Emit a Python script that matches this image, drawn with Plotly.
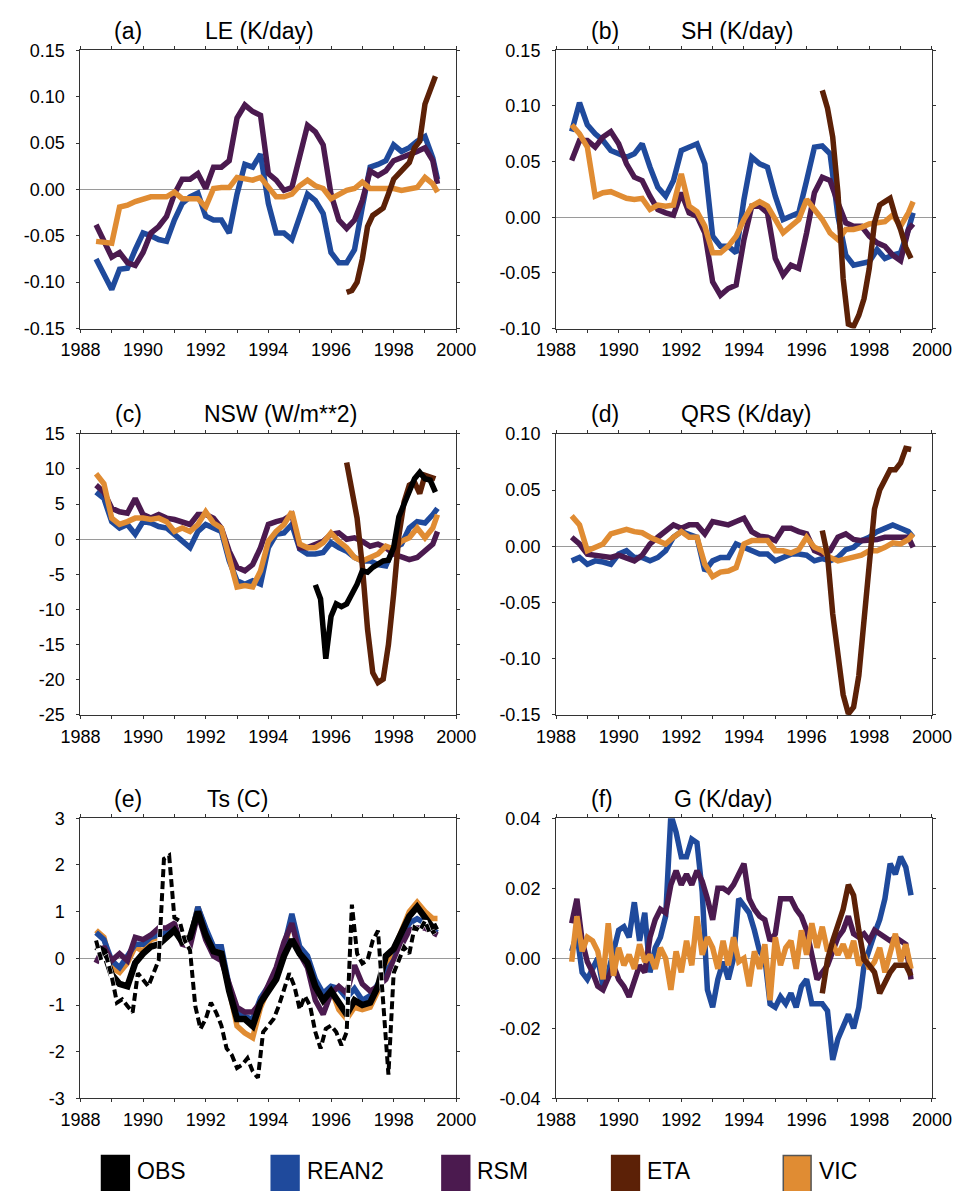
import numpy as np
import plotly.graph_objects as go

# ---------------------------------------------------------------- time axes
# quarterly sampling (last sample at 1999.4)
t_q = np.append(np.arange(1988.5, 1999.3, 0.25), 1999.4)
# two-monthly sampling used by the noisier records
t_6 = 1988.5 + np.arange(66) / 6.0
t_eta = 1996.5 + np.arange(18) / 6.0
t_obs_nsw = 1995.5 + np.arange(24) / 6.0

# ---------------------------------------------------------------- (a) LE (K/day)
le_rean2 = [-0.075, -0.092, -0.108, -0.086, -0.085, -0.065, -0.047, -0.050, -0.054, -0.056,
            -0.033, -0.015, -0.008, -0.004, -0.029, -0.033, -0.033, -0.047, -0.005, 0.027,
            0.024, 0.038, -0.015, -0.047, -0.047, -0.054, -0.029, -0.005, -0.012, -0.026,
            -0.068, -0.079, -0.079, -0.065, -0.019, 0.024, 0.027, 0.031, 0.048, 0.041,
            0.045, 0.052, 0.057, 0.034, 0.011]
le_rsm = [-0.038, -0.054, -0.073, -0.068, -0.079, -0.082, -0.068, -0.047, -0.040, -0.029,
          -0.005, 0.011, 0.011, 0.017, 0.001, 0.024, 0.024, 0.031, 0.077, 0.091,
          0.084, 0.080, 0.017, 0.010, -0.001, 0.002, 0.034, 0.069, 0.062, 0.048,
          -0.005, -0.033, -0.042, -0.033, -0.012, 0.020, 0.015, 0.020, 0.031, 0.034,
          0.038, 0.041, 0.045, 0.031, 0.006]
le_vic = [-0.056, -0.057, -0.058, -0.019, -0.017, -0.013, -0.010, -0.008, -0.008, -0.008,
          -0.003, -0.010, -0.010, -0.010, -0.019, 0.001, 0.002, 0.002, 0.013, 0.011,
          0.010, 0.013, 0.002, -0.008, -0.008, -0.005, 0.004, 0.010, 0.004, 0.001,
          -0.010, -0.005, -0.001, 0.001, 0.008, 0.001, 0.001, 0.001, 0.001, -0.001,
          0.001, 0.002, 0.013, 0.006, -0.003]
le_eta = [-0.111, -0.109, -0.100, -0.075, -0.040, -0.028, -0.024, -0.020, -0.005, 0.011,
          0.017, 0.024, 0.029, 0.045, 0.052, 0.092, 0.108, 0.122]

# ---------------------------------------------------------------- (b) SH (K/day)
sh_rean2 = [0.077, 0.103, 0.083, 0.075, 0.069, 0.060, 0.057, 0.054, 0.057, 0.066,
            0.045, 0.027, 0.019, 0.033, 0.060, 0.063, 0.066, 0.048, -0.017, -0.026,
            -0.026, -0.032, 0.016, 0.054, 0.048, 0.045, 0.019, -0.002, 0.001, 0.004,
            0.033, 0.063, 0.064, 0.057, 0.001, -0.034, -0.043, -0.042, -0.040, -0.029,
            -0.037, -0.034, -0.032, -0.011, 0.004]
sh_rsm = [0.051, 0.069, 0.069, 0.063, 0.072, 0.077, 0.066, 0.048, 0.036, 0.033,
          0.019, 0.007, 0.004, 0.002, 0.022, 0.004, 0.001, -0.014, -0.058, -0.070,
          -0.064, -0.061, -0.020, 0.010, 0.010, 0.004, -0.037, -0.052, -0.043, -0.046,
          -0.014, 0.022, 0.036, 0.033, 0.013, -0.005, -0.008, -0.008, -0.017, -0.023,
          -0.026, -0.034, -0.039, -0.011, -0.006]
sh_vic = [0.083, 0.075, 0.063, 0.019, 0.022, 0.023, 0.020, 0.017, 0.016, 0.017,
          0.007, 0.011, 0.010, 0.011, 0.039, 0.010, 0.005, -0.008, -0.032, -0.032,
          -0.026, -0.017, -0.002, 0.010, 0.014, 0.010, -0.002, -0.014, -0.008, -0.002,
          0.016, 0.007, -0.002, -0.014, -0.020, -0.011, -0.011, -0.009, -0.006, -0.005,
          -0.004, 0.002, -0.008, 0.004, 0.014]
sh_eta = [0.114, 0.098, 0.072, 0.022, -0.055, -0.096, -0.098, -0.088, -0.073, -0.046,
          -0.005, 0.011, 0.014, 0.017, 0.001, -0.011, -0.027, -0.037]

# ---------------------------------------------------------------- (c) NSW (W/m**2)
nsw_rean2 = [6.7, 5.8, 2.5, 1.6, 2.1, 0.7, 2.5, 2.3, 1.8, 1.6,
             0.7, -0.3, -1.2, 1.1, 2.1, 1.6, 1.1, -3.1, -5.9, -6.4,
             -5.9, -6.4, -1.2, 0.7, 0.9, 2.1, -1.4, -2.1, -2.1, -1.9,
             -0.5, -1.2, -1.7, -2.6, -3.1, -3.1, -3.6, -3.8, -1.2, -0.7,
             1.6, 2.5, 2.3, 3.5, 4.4]
nsw_rsm = [7.7, 6.7, 4.4, 3.9, 3.7, 5.8, 3.5, 3.0, 3.5, 3.0,
           2.8, 2.5, 2.1, 3.5, 3.5, 3.0, 1.6, -1.7, -4.0, -4.5,
           -3.6, -1.2, 2.1, 2.5, 2.8, 3.5, -1.2, -1.2, -0.7, -0.3,
           0.7, 0.9, 0.0, 0.2, -0.3, -1.0, -0.7, -1.2, -2.1, -2.6,
           -2.9, -2.6, -1.7, -0.7, 1.1]
nsw_vic = [9.3, 7.9, 3.0, 2.1, 2.5, 3.0, 3.0, 2.8, 3.0, 2.5,
           1.1, 1.6, 1.1, 2.1, 3.9, 2.3, 1.6, -2.6, -6.8, -6.6,
           -6.8, -4.5, -0.3, 1.1, 2.1, 3.9, -0.7, -1.2, -1.2, -0.5,
           0.9, -0.3, -1.2, -2.6, -3.1, -2.6, -2.1, -1.0, -1.4, -0.3,
           0.2, 1.6, 0.2, 1.6, 3.5]
nsw_eta = [10.9, 7.4, 3.0, -3.8, -12.8, -19.0, -20.4, -19.9, -15.0, -7.8,
           0.5, 5.3, 7.7, 8.1, 6.5, 9.1, 8.8, 8.6]
nsw_obs = [-6.5, -8.5, -17.0, -11.0, -9.2, -9.6, -9.2, -7.8, -6.4, -4.5,
           -4.7, -4.0, -3.6, -3.1, -3.0, -1.2, 3.2, 4.9, 6.7, 8.6,
           9.5, 8.6, 8.4, 6.7]

# ---------------------------------------------------------------- (d) QRS (K/day)
qrs_rean2 = [-0.013, -0.010, -0.016, -0.013, -0.014, -0.016, -0.007, -0.004, -0.010, -0.010,
             -0.013, -0.010, -0.004, 0.008, 0.013, 0.011, 0.008, -0.022, -0.013, -0.010,
             -0.010, 0.002, -0.001, -0.004, -0.007, -0.007, -0.013, -0.010, -0.007, -0.007,
             -0.008, -0.013, -0.011, -0.013, -0.010, -0.003, -0.001, 0.005, 0.008, 0.013,
             0.016, 0.019, 0.016, 0.013, 0.008]
qrs_rsm = [0.008, 0.002, -0.007, -0.008, -0.010, -0.010, -0.008, -0.011, -0.013, -0.008,
           0.002, 0.008, 0.013, 0.019, 0.016, 0.019, 0.019, 0.011, 0.022, 0.021,
           0.019, 0.022, 0.025, 0.013, 0.009, 0.008, 0.005, 0.016, 0.016, 0.013,
           0.011, -0.004, -0.007, -0.004, 0.008, 0.011, 0.006, 0.005, 0.005, 0.006,
           0.008, 0.008, 0.009, 0.008, -0.001]
qrs_vic = [0.027, 0.019, -0.004, -0.001, 0.002, 0.011, 0.013, 0.015, 0.013, 0.012,
           0.008, 0.005, 0.002, 0.008, 0.013, 0.008, 0.008, -0.016, -0.027, -0.023,
           -0.022, -0.019, 0.002, 0.005, 0.005, 0.005, -0.004, -0.004, -0.006, -0.003,
           0.008, -0.001, -0.004, -0.010, -0.013, -0.011, -0.010, -0.008, -0.004, -0.004,
           -0.001, 0.003, 0.002, 0.006, 0.011]
qrs_eta = [0.014, -0.008, -0.060, -0.100, -0.132, -0.149, -0.143, -0.115, -0.068, -0.020,
           0.033, 0.050, 0.058, 0.068, 0.068, 0.074, 0.087, 0.086]

# ---------------------------------------------------------------- (e) Ts (C)
ts_obs = [0.25, 0.15, -0.35, -0.55, -0.60, -0.10, 0.10, 0.25, 0.30, 0.45,
          0.60, 0.35, 0.45, 1.00, 0.50, 0.15, 0.10, -0.70, -1.30, -1.30,
          -1.45, -0.95, -0.70, -0.45, 0.05, 0.40, 0.10, -0.10, -0.60, -0.90,
          -0.70, -0.95, -1.20, -0.90, -1.00, -0.95, -0.60, 0.05, 0.20, 0.55,
          0.90, 1.10, 0.90, 0.65, 0.70]
ts_rean2 = [0.55, 0.40, -0.05, -0.20, 0.05, 0.30, 0.30, 0.45, 0.50, 0.55,
            0.65, 0.40, 0.40, 1.10, 0.65, 0.25, 0.25, -0.60, -1.15, -1.25,
            -1.30, -0.85, -0.60, -0.30, 0.25, 0.95, 0.25, 0.05, -0.45, -0.75,
            -0.60, -0.65, -0.85, -0.65, -0.90, -0.80, -0.55, -0.30, -0.05, 0.40,
            0.75, 0.85, 0.75, 0.60, 0.55]
ts_rsm = [-0.10, 0.25, -0.05, 0.10, -0.05, 0.45, 0.40, 0.50, 0.65, 0.65,
          0.75, 0.30, 0.25, 0.95, 0.40, 0.05, -0.05, -0.55, -1.05, -1.15,
          -1.15, -0.95, -0.60, -0.20, 0.35, 0.75, 0.10, -0.20, -0.90, -1.20,
          -0.75, -0.60, -0.75, -0.15, -0.55, -0.70, -0.60, -0.45, -0.05, 0.30,
          0.60, 0.65, 0.65, 0.55, 0.50]
ts_vic = [0.60, 0.45, -0.20, -0.30, -0.10, 0.25, 0.15, 0.40, 0.45, 0.45,
          0.60, 0.45, 0.40, 1.10, 0.60, 0.20, 0.10, -0.75, -1.45, -1.60,
          -1.70, -1.05, -0.65, -0.40, 0.15, 0.90, 0.15, -0.05, -0.60, -0.90,
          -0.65, -1.10, -1.30, -1.05, -1.10, -1.05, -0.70, -0.25, 0.15, 0.60,
          1.00, 1.20, 1.00, 0.85, 0.85]
# station surface temperature (dashed)
ts_station = [0.38, -0.04, 0.03, -0.39, -0.95, -0.88, -1.02, -1.16, -0.32, -0.46,
              -0.60, -0.32, -0.04, 2.13, 2.20, 0.87, 0.80, 0.38, 0.17, -1.02,
              -1.51, -1.30, -0.95, -1.16, -1.44, -1.93, -2.07, -2.35, -2.28, -2.14,
              -2.42, -2.56, -1.58, -1.44, -1.30, -1.02, -0.67, -0.32, -0.60, -1.09,
              -0.81, -1.02, -1.58, -1.93, -1.51, -1.44, -1.58, -1.86, -1.58, 1.15,
              0.10, -0.11, -0.04, 0.38, 0.59, -1.02, -2.49, -0.32, -0.04, 0.24,
              0.10, 0.66, 0.59, 0.80, 0.52, 0.59]

# ---------------------------------------------------------------- (f) G (K/day)
g_rean2 = [0.002, 0.007, -0.004, -0.006, -0.003, 0.000, -0.008, -0.004, 0.002, 0.008,
           0.009, 0.006, 0.016, 0.005, 0.013, -0.004, 0.003, 0.006, 0.012, 0.041,
           0.036, 0.029, 0.029, 0.034, 0.033, 0.019, -0.009, -0.014, -0.006, -0.001,
           -0.006, 0.000, 0.017, 0.015, 0.013, 0.008, 0.002, 0.000, -0.013, -0.014,
           -0.011, -0.013, -0.010, -0.014, -0.008, -0.006, -0.013, -0.013, -0.013, -0.015,
           -0.029, -0.023, -0.019, -0.016, -0.020, -0.014, -0.002, 0.003, 0.007, 0.011,
           0.017, 0.027, 0.024, 0.029, 0.026, 0.018]
g_rsm = [0.010, 0.017, 0.005, -0.001, -0.004, -0.008, -0.009, -0.005, -0.002, -0.006,
         -0.008, -0.011, -0.006, -0.002, -0.004, 0.006, 0.011, 0.014, 0.013, 0.021,
         0.025, 0.021, 0.024, 0.021, 0.025, 0.022, 0.017, 0.011, 0.020, 0.020,
         0.019, 0.021, 0.024, 0.027, 0.017, 0.014, 0.012, 0.011, 0.005, 0.007,
         0.017, 0.017, 0.017, 0.014, 0.012, 0.008, 0.000, -0.006, -0.004, -0.002,
         0.002, 0.006, 0.008, 0.012, 0.007, 0.006, 0.007, 0.005, 0.008, 0.007,
         0.006, 0.005, 0.006, 0.005, 0.004, -0.006]
g_vic = [-0.001, 0.012, 0.002, 0.006, 0.005, 0.002, -0.006, 0.010, -0.005, 0.003,
         -0.002, 0.001, -0.003, 0.004, -0.001, 0.001, -0.003, 0.003, 0.000, -0.009,
         0.002, -0.004, 0.005, -0.002, 0.012, 0.001, 0.006, 0.003, -0.003, 0.005,
         -0.002, 0.006, -0.001, 0.000, -0.008, 0.002, -0.003, 0.004, -0.012, 0.006,
         -0.002, 0.003, 0.005, -0.003, 0.008, 0.001, 0.010, 0.003, 0.009, 0.002,
         0.004, 0.001, 0.004, 0.000, 0.005, -0.002, 0.001, -0.003, -0.001, 0.003,
         -0.004, 0.001, 0.007, -0.001, 0.004, -0.003]
g_eta = [-0.010, -0.0004, 0.005, 0.009, 0.014, 0.021, 0.018, 0.008, -0.0004, -0.002,
         -0.004, -0.010, -0.007, -0.004, -0.002, -0.002, -0.002, -0.005]

# ---------------------------------------------------------------- styling
COLORS = {"OBS": "#000000", "REAN2": "#1f4a9c", "RSM": "#4b1a4f",
          "ETA": "#5c2107", "VIC": "#e08c33"}
FONT = "Liberation Sans, Arial, Helvetica, sans-serif"
W, H = 973, 1191
LW = 5.5

panels = [
    # key, title, y range, y ticks, tick format, x extent (px), y extent (px, top/bottom)
    ("a", "LE (K/day)", [-0.15, 0.15], [-0.15, -0.10, -0.05, 0.0, 0.05, 0.10, 0.15], "{:.2f}", (63, 455), (41, 324)),
    ("b", "SH (K/day)", [-0.10, 0.15], [-0.10, -0.05, 0.0, 0.05, 0.10, 0.15], "{:.2f}", (559, 951), (41, 324)),
    ("c", "NSW (W/m**2)", [-25, 15], [-25, -20, -15, -10, -5, 0, 5, 10, 15], "{:.0f}", (63, 455), (431, 717)),
    ("d", "QRS (K/day)", [-0.15, 0.10], [-0.15, -0.10, -0.05, 0.0, 0.05, 0.10], "{:.2f}", (559, 951), (431, 717)),
    ("e", "Ts (C)", [-3, 3], [-3, -2, -1, 0, 1, 2, 3], "{:.0f}", (63, 455), (822, 1107)),
    ("f", "G (K/day)", [-0.04, 0.04], [-0.04, -0.02, 0.0, 0.02, 0.04], "{:.2f}", (559, 951), (822, 1107)),
]
title_pos = {  # label centre x, title centre x, centre y (px)
    "a": (113, 250, 21), "b": (610, 748, 21),
    "c": (113, 272, 411), "d": (610, 757, 411),
    "e": (113, 227, 802), "f": (607, 733, 802),
}

series = {
    "a": [("REAN2", t_q, le_rean2), ("RSM", t_q, le_rsm), ("VIC", t_q, le_vic), ("ETA", t_eta, le_eta)],
    "b": [("REAN2", t_q, sh_rean2), ("RSM", t_q, sh_rsm), ("VIC", t_q, sh_vic), ("ETA", t_eta, sh_eta)],
    "c": [("REAN2", t_q, nsw_rean2), ("RSM", t_q, nsw_rsm), ("VIC", t_q, nsw_vic), ("ETA", t_eta, nsw_eta),
          ("OBS", t_obs_nsw, nsw_obs)],
    "d": [("REAN2", t_q, qrs_rean2), ("RSM", t_q, qrs_rsm), ("VIC", t_q, qrs_vic), ("ETA", t_eta, qrs_eta)],
    "e": [("VIC", t_q, ts_vic), ("REAN2", t_q, ts_rean2), ("RSM", t_q, ts_rsm), ("OBS", t_q, ts_obs)],
    "f": [("REAN2", t_6, g_rean2), ("RSM", t_6, g_rsm), ("VIC", t_6, g_vic), ("ETA", t_eta, g_eta)],
}

fig = go.Figure()
layout = dict(width=W, height=H, margin=dict(l=0, r=0, t=0, b=0),
              paper_bgcolor="white", plot_bgcolor="white", showlegend=False,
              font=dict(family=FONT, color="black"))
annotations, shapes = [], []
tick_font = dict(family=FONT, size=18, color="black")
title_font = dict(family=FONT, size=23, color="black")

for i, (key, title, yr, yt, fmt, (x0, x1), (ytop, ybot)) in enumerate(panels):
    n = "" if i == 0 else str(i + 1)
    xa, ya = "x" + n, "y" + n
    layout["xaxis" + n] = dict(
        domain=[x0 / W, x1 / W], range=[1988, 2000], anchor=ya,
        tickvals=list(range(1988, 2001, 2)), ticktext=[str(v) for v in range(1988, 2001, 2)],
        ticks="outside", ticklen=3, tickwidth=1, tickcolor="#333",
        minor=dict(dtick=1, ticks="outside", ticklen=3, tickcolor="#333", showgrid=False),
        showline=True, linecolor="#333", linewidth=1, mirror="allticks",
        showgrid=False, zeroline=False, ticklabelstandoff=2,
        tickfont=tick_font, fixedrange=True)
    layout["yaxis" + n] = dict(
        domain=[1 - ybot / H, 1 - ytop / H], range=yr, anchor=xa,
        tickvals=yt, ticktext=[fmt.format(v) for v in yt],
        ticks="outside", ticklen=3, tickwidth=1, tickcolor="#333",
        showline=True, linecolor="#333", linewidth=1, mirror="allticks",
        showgrid=False, zeroline=True, zerolinecolor="#9a9a9a", zerolinewidth=1,
        ticklabelstandoff=8, tickfont=tick_font, fixedrange=True)

    for name, t, vals in series[key]:
        width = 6.5 if (key == "e" and name == "OBS") else LW
        fig.add_trace(go.Scatter(x=t, y=vals, mode="lines", name=name,
                                 line=dict(color=COLORS[name], width=width),
                                 xaxis=xa, yaxis=ya, hoverinfo="skip"))
    if key == "e":
        fig.add_trace(go.Scatter(x=t_6, y=ts_station, mode="lines", name="OBS station",
                                 line=dict(color="white", width=5),
                                 xaxis=xa, yaxis=ya, hoverinfo="skip"))
        fig.add_trace(go.Scatter(x=t_6, y=ts_station, mode="lines", name="OBS station",
                                 line=dict(color="black", width=4, dash="8px,4px"),
                                 xaxis=xa, yaxis=ya, hoverinfo="skip"))

    lx, tx, cy = title_pos[key]
    annotations.append(dict(text=f"({key})", x=lx / W, y=1 - cy / H, xref="paper", yref="paper",
                            showarrow=False, xanchor="center", yanchor="middle", font=title_font))
    annotations.append(dict(text=title, x=tx / W, y=1 - cy / H, xref="paper", yref="paper",
                            showarrow=False, xanchor="center", yanchor="middle", font=title_font))

# legend row along the bottom
legend_names = ["OBS", "REAN2", "RSM", "ETA", "VIC"]
legend_box_x = [85, 262, 440, 617, 796]
for name, bx in zip(legend_names, legend_box_x):
    shapes.append(dict(type="rect", xref="paper", yref="paper",
                       x0=bx / W, x1=(bx + 29) / W, y0=-0.01, y1=1 - 1165 / H,
                       fillcolor=COLORS[name],
                       line=dict(color="#555" if name == "VIC" else COLORS[name], width=1.5)))
    annotations.append(dict(text=name, x=(bx + 35) / W, y=1 - 1181 / H, xref="paper", yref="paper",
                            showarrow=False, xanchor="left", yanchor="middle",
                            font=dict(family=FONT, size=23, color="black")))

layout["annotations"] = annotations
layout["shapes"] = shapes
fig.update_layout(**layout)
fig.write_html("out.html", config={"displayModeBar": False})
